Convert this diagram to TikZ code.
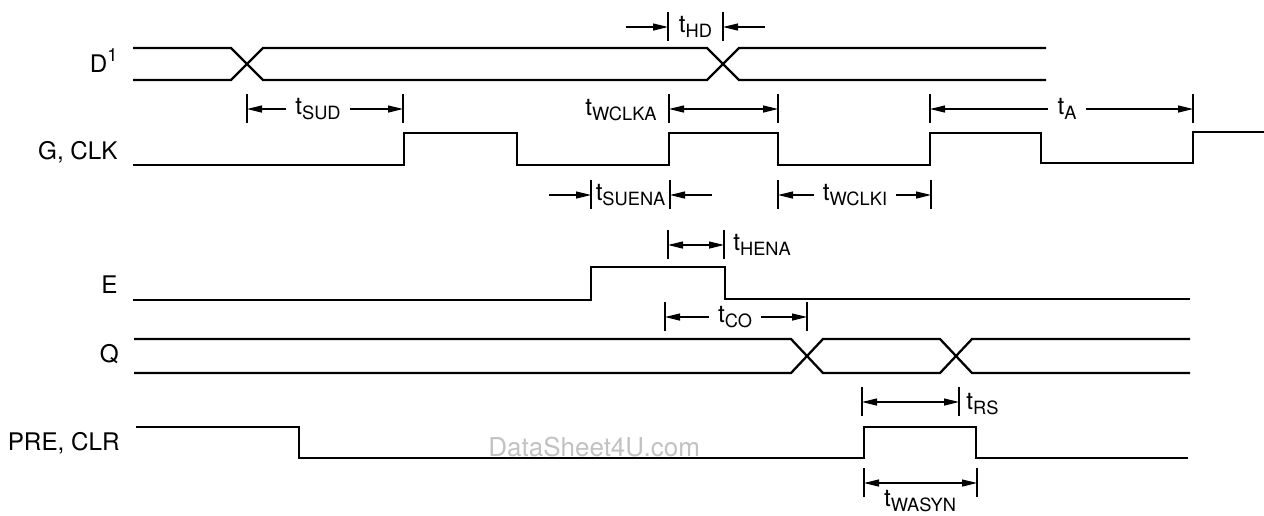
\documentclass[tikz,border=0pt]{standalone}
\usepackage{fontspec}
\setmainfont{TeX Gyre Heros}
\usetikzlibrary{calc,arrows.meta}
\definecolor{wmgray}{rgb}{0.76,0.76,0.76}
\newcommand{\bh}{15}
\newcommand{\cw}{16}
\newcommand{\subfont}{\fontsize{10.4}{12}\selectfont}
\newcommand{\tsub}[1]{t\raisebox{-3.2pt}{\subfont #1}}
\tikzset{
  sig/.style={line width=1.3pt, line join=miter},
  dim/.style={line width=0.7pt},
  dimarr/.style={dim, -{Triangle[length=0.3cm,width=0.14cm]}},
  dimboth/.style={dim, {Triangle[length=0.3cm,width=0.14cm]}-{Triangle[length=0.3cm,width=0.14cm]}},
  siglabel/.style={anchor=base east, inner sep=0pt, font=\fontsize{13.8}{16}\selectfont},
  tlabel/.style={inner sep=0pt, font=\fontsize{13.8}{16}\selectfont},
}
% bus with two crossings
\newcommand{\bus}[6]{
\draw[sig] (#3,#1) -- ($(#4-\cw,#1)$) -- ($(#4+\cw,#2)$) --
           ($(#5-\cw,#2)$) -- ($(#5+\cw,#1)$) -- (#6,#1);
\draw[sig] (#3,#2) -- ($(#4-\cw,#2)$) -- ($(#4+\cw,#1)$) --
           ($(#5-\cw,#1)$) -- ($(#5+\cw,#2)$) -- (#6,#2);
}
% end bar of a timing
\newcommand{\tbar}[3]{
\coordinate (#1) at (#2,#3);
\draw[dim] ($(#1)+(0,-\bh)$) -- ($(#1)+(0,\bh-1)$);
}
% timing, label in the gap
\newcommand{\dimgap}[6]{
\tbar{#1a}{#2}{#4}
\tbar{#1b}{#3}{#4}
\node[tlabel, inner xsep=5pt] (#1) at (#5,#4) {\tsub{#6}};
\draw[dimarr] (#1) -- (#1a);
\draw[dimarr] (#1) -- (#1b);
}
% timing, arrows from outside
\newcommand{\dimout}[5]{
\tbar{#1a}{#2}{#4}
\tbar{#1b}{#3}{#4}
\coordinate (#1l) at ($(#1a)+(-42,0)$);
\coordinate (#1r) at ($(#1b)+(42,0)$);
\draw[dimarr] (#1l) -- (#1a);
\draw[dimarr] (#1r) -- (#1b);
\node[tlabel] (#1) at ($(#1a)!0.5!(#1b)$) {\tsub{#5}};
}
% timing, label put aside
\newcommand{\dimlen}[4]{
\tbar{#1a}{#2}{#4}
\tbar{#1b}{#3}{#4}
\draw[dimboth] (#1a) -- (#1b);
}
\begin{document}
\begin{tikzpicture}[x=0.02cm, y=-0.02cm]
\useasboundingbox (0,0) rectangle (1264,515);

% signal names
\node[siglabel] (lblD) at (118,72) {D\raisebox{5.7pt}{\subfont 1}};
\node[siglabel] (lblclk) at (118,159) {G, CLK};
\node[siglabel] (lblE) at (118,293) {E};
\node[siglabel] (lblQ) at (119,362) {Q};
\node[siglabel] (lblpre) at (120,450) {PRE, CLR};

% D
\bus{48}{80}{133}{247}{723}{1046}

% G, CLK
\draw[sig] (133,165) -- (404,165) -- (404,133) -- (517,133) -- (517,165)
  -- (669,165) -- (669,133) -- (778,133) -- (778,165) -- (930,165)
  -- (930,133) -- (1041,133) -- (1041,163) -- (1193,163) -- (1193,132)
  -- (1264,132);

% E
\draw[sig] (133,300) -- (591,300) -- (591,267) -- (725,267) -- (725,299)
  -- (1190,299);

% Q
\bus{339}{373}{134}{807}{956}{1190}

% PRE, CLR
\draw[sig] (136,427) -- (299,427) -- (299,458) -- (864,458) -- (864,427)
  -- (976,427) -- (976,458) -- (1188,458);

% timings
\dimout{thd}{668}{723}{27}{HD}
\dimgap{tsud}{247}{403}{109}{318}{SUD}
\dimlen{twclka}{669}{778}{109}
\node[tlabel, anchor=base east] (twclka) at (657,115) {\tsub{WCLKA}};
\dimgap{ta}{930}{1193}{109}{1067}{A}
\dimout{tsuena}{591}{670}{195}{SUENA}
\dimgap{twclki}{778}{931}{195}{855}{WCLKI}
\dimlen{thena}{668}{724}{245}
\node[tlabel, anchor=base west] (thena) at (733,250) {\tsub{HENA}};
\dimgap{tco}{665}{807}{317}{735}{CO}
\dimlen{trs}{862}{959}{402}
\node[tlabel, anchor=base west] (trs) at (966,409) {\tsub{RS}};
\dimlen{twasyn}{864}{977}{483}
\node[tlabel, anchor=base] (twasyn) at (920,506) {\tsub{WASYN}};

% watermark
\node[anchor=base west, inner sep=0pt, text=wmgray, font=\fontsize{14.8}{18}\selectfont] (wm) at (488,456) {DataSheet4U.com};
\end{tikzpicture}
\end{document}
